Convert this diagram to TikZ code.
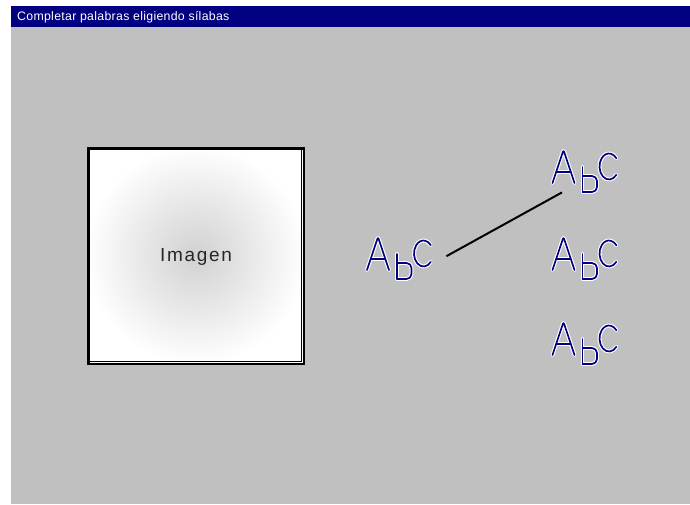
\documentclass[tikz,border=0pt]{standalone}
\usepackage{fontspec}
\setmainfont{Liberation Sans}
\newfontfamily\titlefont[LetterSpace=2.5]{Liberation Sans}
\newfontfamily\labelfont[LetterSpace=9]{Liberation Sans}
\definecolor{winnavy}{HTML}{000080}
\definecolor{wingray}{HTML}{C0C0C0}
\definecolor{labelgray}{HTML}{262626}

\tikzset{
  glyphhalo/.style={draw=white, line width=3.9pt, line cap=round, line join=round},
  glyphink/.style={draw=winnavy, line width=1.7pt, line cap=round, line join=round},
  % hand-drawn "Abc" syllable token; origin is the apex of the A
  abc/.pic={
    \foreach \sty in {glyphhalo,glyphink}{
      \path[\sty, rounded corners=2pt] (-11,33) -- (0,0) -- (11,33);
      \path[\sty] (-7.3,22) -- (7.3,22);
      \path[\sty] (19,17) -- (19,42);
      \path[\sty, rounded corners=5pt] (19,26) -- (33.5,26) -- (33.5,42) -- (19,42);
      \path[\sty] (45.5,16.5) ++(40:9.5 and 13)
        arc[start angle=40, end angle=320, x radius=9.5, y radius=13];
    }
    \node[inner sep=0pt, minimum width=66pt, minimum height=42pt,
          anchor=north west] (-box) at (-11,0) {};
  },
  link/.style={draw=black, line width=2pt},
  titletext/.style={text=white, font=\titlefont\fontsize{12.3}{14}\selectfont,
    anchor=base west, inner sep=0pt},
  imagetext/.style={text=labelgray, font=\labelfont\fontsize{19}{22}\selectfont,
    anchor=base, inner sep=0pt},
}

\begin{document}
\begin{tikzpicture}[x=1pt, y=-1pt]
  \useasboundingbox (0,0) rectangle (690,504);
  \fill[white] (0,0) rectangle (690,504);

  % window client area and caption bar
  \fill[wingray] (11,27) rectangle (690,504);
  \fill[winnavy] (11,6) rectangle (690,27);
  \node[titletext] (title) at (17,20.5) {Completar palabras eligiendo sílabas};

  % picture placeholder with sunken frame
  \fill[white] (87,147) rectangle (305,365);
  \begin{scope}
    \clip (90,150) rectangle (301,361);
    \shade[inner color=black!18, outer color=white] (196,255) circle (110);
  \end{scope}
  \fill[black] (87,147) rectangle (305,150);
  \fill[black] (87,147) rectangle (90,365);
  \fill[black] (87,363) rectangle (305,365);
  \fill[black] (303,147) rectangle (305,365);
  \draw[black, line width=1pt] (90,361.5) -- (301.5,361.5) -- (301.5,150);
  \node[imagetext] (imglabel) at (196,261.5) {Imagen};

  % syllable tokens
  \pic (L)  at (378,237)   {abc};
  \pic (T1) at (563.5,150) {abc};
  \pic (T2) at (563.5,237) {abc};
  \pic (T3) at (563.5,322) {abc};

  % chosen pairing
  \draw[link] ([shift={(13pt,2pt)}]L-box.east) -- ([xshift=9.5pt]T1-box.south west);
\end{tikzpicture}
\end{document}
